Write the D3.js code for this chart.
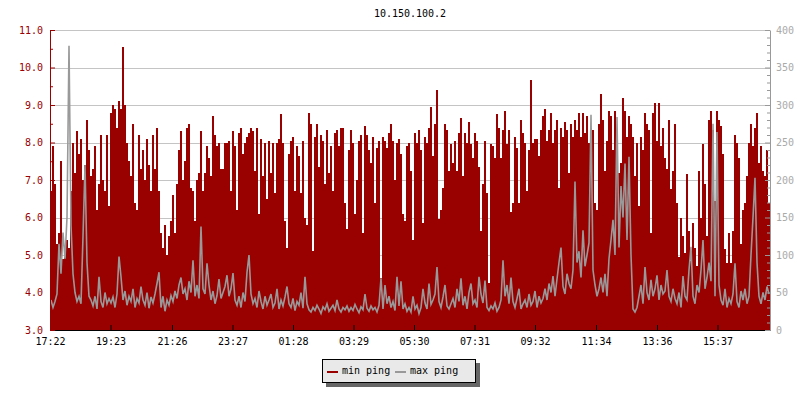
<!DOCTYPE html>
<html><head><meta charset="utf-8">
<script src="https://cdn.jsdelivr.net/npm/d3@7"></script>
<style>
html,body{margin:0;padding:0;background:#fff;}
svg{display:block;font-family:"DejaVu Sans Mono",monospace;}
</style></head>
<body>
<script>
const title = "10.150.100.2";
const seriesNames = ["min ping", "max ping"];
const startTime = "17:22";
const stepMinutes = 4;
const xTickLabels = ["17:22","19:23","21:26","23:27","01:28","03:29","05:30","07:31","09:32","11:34","13:36","15:37"];
const leftTicks = [3.0,4.0,5.0,6.0,7.0,8.0,9.0,10.0,11.0];
const rightTicks = [0,50,100,150,200,250,300,350,400];

const minPing = [
6.7,7.9,6.9,5.3,5.6,7.5,4.9,5.0,5.4,5.2,
6.7,8.0,7.2,8.3,7.7,8.1,7.0,7.4,8.6,7.8,
7.1,7.3,7.9,6.2,6.9,8.2,7.0,6.7,8.2,6.3,
8.8,9.0,8.9,8.4,9.1,8.9,10.55,9.0,8.0,7.5,
7.1,8.5,6.4,6.2,8.2,7.3,7.8,7.0,8.1,7.4,
6.7,8.2,7.3,8.4,6.7,5.6,5.2,5.8,5.0,5.5,
5.9,6.6,5.6,6.9,7.8,8.3,7.0,7.5,8.4,8.5,
6.8,6.7,5.9,7.0,7.2,8.3,6.7,7.2,7.9,7.6,
7.1,8.7,8.2,7.9,8.0,7.3,7.3,8.0,8.0,8.05,
6.7,8.3,7.9,6.2,8.25,8.4,7.7,8.0,8.15,8.25,
8.4,8.3,7.25,8.4,6.1,8.1,7.1,8.0,6.5,8.05,
7.2,8.0,6.65,8.0,8.1,8.75,8.0,5.9,5.2,7.7,
8.05,8.15,6.7,7.9,7.65,6.65,8.05,6.0,5.8,8.8,
8.5,5.1,8.15,8.5,7.35,8.2,8.05,6.9,8.33,7.2,
7.9,6.7,8.25,8.33,7.9,8.4,8.4,6.4,5.7,7.8,
8.33,8.0,6.1,7.0,8.05,8.2,5.6,8.45,8.2,7.8,
7.45,8.15,6.4,7.85,8.05,4.4,8.15,8.05,7.85,8.25,
8.5,8.05,7.0,8.0,8.1,7.7,6.1,5.9,7.9,8.0,
7.25,5.4,8.25,8.0,8.33,7.8,5.85,8.15,8.0,8.4,
8.95,7.65,8.5,9.4,5.95,6.2,6.8,8.5,8.33,7.25,
7.95,7.45,8.05,7.25,8.25,8.65,7.1,8.25,8.0,8.55,
7.95,7.6,8.25,8.05,7.35,5.65,6.9,8.05,6.65,4.25,
7.95,7.9,7.6,8.75,8.4,7.6,8.33,8.85,7.95,8.33,
6.15,6.4,8.15,7.85,6.4,8.6,8.25,8.0,6.7,7.8,
9.67,8.0,8.1,8.1,7.65,8.33,8.7,8.9,8.05,8.33,
8.8,8.0,8.33,8.6,6.8,8.4,8.15,8.55,8.33,7.2,
8.5,8.15,8.6,8.33,8.8,8.15,8.8,8.25,8.7,8.0,
8.4,8.33,6.4,6.2,8.5,9.3,8.6,7.25,8.05,8.85,
8.7,7.8,8.85,8.33,7.2,7.45,9.2,8.85,8.15,8.7,
8.5,8.15,7.1,8.0,6.3,8.15,7.8,8.8,8.5,8.33,
5.6,8.8,9.05,8.05,9.05,7.9,8.4,7.6,7.3,8.6,
6.75,7.25,8.5,6.4,4.95,6.0,5.5,5.05,7.15,5.65,
4.85,5.85,5.2,4.7,7.25,6.0,7.95,6.9,5.5,8.6,
8.85,8.33,6.45,8.85,8.6,8.45,7.7,5.15,4.8,5.6,
4.8,5.65,8.2,8.0,7.6,5.3,6.2,6.4,7.1,8.0,
8.5,7.9,8.4,8.8,7.45,7.9,7.25,7.1,7.8,6.4
];

const maxPing = [
40,30,38,48,115,75,130,95,150,379,
140,75,50,38,45,35,125,220,90,45,
40,32,45,28,71,38,30,50,35,42,
36,44,30,48,98,71,40,52,33,45,
38,55,30,42,36,58,40,33,50,29,
44,36,48,62,77,30,45,25,40,33,
46,38,52,42,60,70,48,55,40,65,
50,93,45,60,42,138,55,48,89,60,
40,52,35,46,68,42,50,58,73,45,
55,76,40,33,45,30,50,38,77,100,
48,35,42,30,52,38,28,45,33,40,
48,30,36,55,28,40,32,44,58,35,
30,42,26,38,33,50,29,71,35,27,
24,30,26,33,28,22,31,27,35,25,
29,33,26,40,28,24,30,27,32,25,
30,26,34,28,23,31,27,48,29,25,
32,27,30,24,33,69,28,60,35,45,
30,38,26,71,32,65,28,35,25,30,
24,45,28,33,22,30,55,36,28,62,
34,40,48,84,38,30,44,60,32,28,
35,42,30,55,38,69,33,45,28,50,
62,35,40,30,71,48,36,66,30,26,
32,28,36,25,30,40,93,45,60,35,
70,38,30,42,55,28,35,40,30,48,
33,38,52,30,45,36,42,55,40,62,
50,72,45,68,90,110,58,48,75,62,
55,80,198,90,105,70,133,85,100,116,
287,80,60,45,55,70,50,75,45,95,
120,147,100,284,110,192,150,222,120,231,
100,28,24,30,45,60,35,84,50,40,
67,45,55,73,40,60,48,52,80,45,
38,55,42,35,50,30,72,45,40,80,
111,45,35,60,50,80,120,55,70,90,
65,275,45,264,60,40,33,55,30,42,
35,48,89,38,30,52,40,55,35,45,
100,150,203,90,45,35,50,40,58,48
];

const W = 800, H = 400;
const M = {left: 50, right: 30, top: 30, bottom: 70};
const redC = "#990000", grayC = "#999999";

const svg = d3.select("body").append("svg").attr("width", W).attr("height", H);

const t0 = new Date(2020, 0, 1, +startTime.split(":")[0], +startTime.split(":")[1]);
const times = minPing.map((d, i) => d3.timeMinute.offset(t0, i * stepMinutes));
const tEnd = d3.timeMinute.offset(t0, minPing.length * stepMinutes);

const x = d3.scaleTime().domain([t0, tEnd]).range([M.left, W - M.right]);
const yL = d3.scaleLinear().domain([3, 11]).range([H - M.bottom, M.top]);
const yR = d3.scaleLinear().domain([0, 400]).range([H - M.bottom, M.top]);

// grid
svg.append("g").selectAll("line").data(leftTicks.slice(1)).join("line")
  .attr("x1", M.left).attr("x2", W - M.right)
  .attr("y1", d => Math.round(yL(d)) + 0.5).attr("y2", d => Math.round(yL(d)) + 0.5)
  .attr("stroke", "#c4c4c4").attr("stroke-width", 1);

// bars min ping
svg.append("g").attr("shape-rendering", "crispEdges").selectAll("rect").data(minPing).join("rect")
  .attr("x", (d, i) => x(times[i]))
  .attr("width", (d, i) => x(d3.timeMinute.offset(times[i], stepMinutes)) - x(times[i]))
  .attr("y", d => yL(d))
  .attr("height", d => yL(3) - yL(d))
  .attr("fill", redC);

// max ping line
const pts = maxPing.map((d, i) => [x(times[i]) + 1, yR(d)]);
svg.append("path")
  .attr("d", d3.line()(pts))
  .attr("fill", "none").attr("stroke", grayC).attr("stroke-width", 1.6)
  .attr("stroke-linejoin", "miter");

// x axis
function parseLabel(lbl, prev) {
  const [h, m] = lbl.split(":").map(Number);
  let d = new Date(t0.getFullYear(), t0.getMonth(), t0.getDate(), h, m);
  while (prev && d < prev) d = d3.timeDay.offset(d, 1);
  return d;
}
const xTickDates = [];
xTickLabels.forEach((l, i) => xTickDates.push(parseLabel(l, i ? xTickDates[i - 1] : null)));

const xAxis = svg.append("g").attr("transform", `translate(0,${H - M.bottom})`)
  .call(d3.axisBottom(x).tickValues(xTickDates).tickFormat((d, i) => xTickLabels[i])
    .tickSizeInner(-5).tickSizeOuter(0).tickPadding(8));
xAxis.select(".domain").attr("stroke", "#000");
xAxis.selectAll(".tick line").attr("stroke", "#000");
xAxis.selectAll("text").attr("fill", "#000").attr("font-size", 10).attr("font-family", "DejaVu Sans Mono");

// left axis
const lAxis = svg.append("g").attr("transform", `translate(${M.left},0)`)
  .call(d3.axisLeft(yL).tickValues(leftTicks).tickFormat(d3.format(".1f"))
    .tickSizeInner(-5).tickSizeOuter(0).tickPadding(7));
lAxis.select(".domain").attr("stroke", redC);
lAxis.selectAll(".tick line").attr("stroke", redC);
lAxis.selectAll("text").attr("fill", redC).attr("font-size", 10).attr("font-family", "DejaVu Sans Mono");
const lMinor = svg.append("g").attr("transform", `translate(${M.left},0)`)
  .call(d3.axisLeft(yL).tickValues(d3.range(3.5, 11, 1)).tickFormat("").tickSizeInner(-3).tickSizeOuter(0));
lMinor.select(".domain").remove();
lMinor.selectAll(".tick line").attr("stroke", redC);

// right axis
const rAxis = svg.append("g").attr("transform", `translate(${W - M.right},0)`)
  .call(d3.axisRight(yR).tickValues(rightTicks).tickFormat(d3.format("d"))
    .tickSizeInner(-5).tickSizeOuter(0).tickPadding(6));
rAxis.select(".domain").attr("stroke", grayC);
rAxis.selectAll(".tick line").attr("stroke", grayC);
rAxis.selectAll("text").attr("fill", "#aaaaaa").attr("font-size", 10).attr("font-family", "DejaVu Sans Mono");
const rMinor = svg.append("g").attr("transform", `translate(${W - M.right},0)`)
  .call(d3.axisRight(yR).tickValues(d3.range(0, 401, 10).filter(v => v % 50 !== 0)).tickFormat("").tickSizeInner(-3).tickSizeOuter(0));
rMinor.select(".domain").remove();
rMinor.selectAll(".tick line").attr("stroke", grayC);

// title
svg.append("text").attr("x", (M.left + W - M.right) / 2).attr("y", 17)
  .attr("text-anchor", "middle").attr("font-size", 10).attr("fill", "#000").text(title);

// legend
const lg = svg.append("g");
lg.append("rect").attr("x", 326).attr("y", 363).attr("width", 154).attr("height", 24).attr("fill", "#666");
lg.append("rect").attr("x", 322.5).attr("y", 359.5).attr("width", 153).attr("height", 23)
  .attr("fill", "#e9e9e9").attr("stroke", "#000").attr("stroke-width", 1);
const items = [{c: redC, x: 327}, {c: grayC, x: 395}];
items.forEach((it, i) => {
  lg.append("line").attr("x1", it.x).attr("x2", it.x + 11).attr("y1", 372).attr("y2", 372)
    .attr("stroke", it.c).attr("stroke-width", 2);
  lg.append("text").attr("x", it.x + 15).attr("y", 374).attr("font-size", 10).attr("fill", "#000").text(seriesNames[i]);
});
</script>
</body></html>
